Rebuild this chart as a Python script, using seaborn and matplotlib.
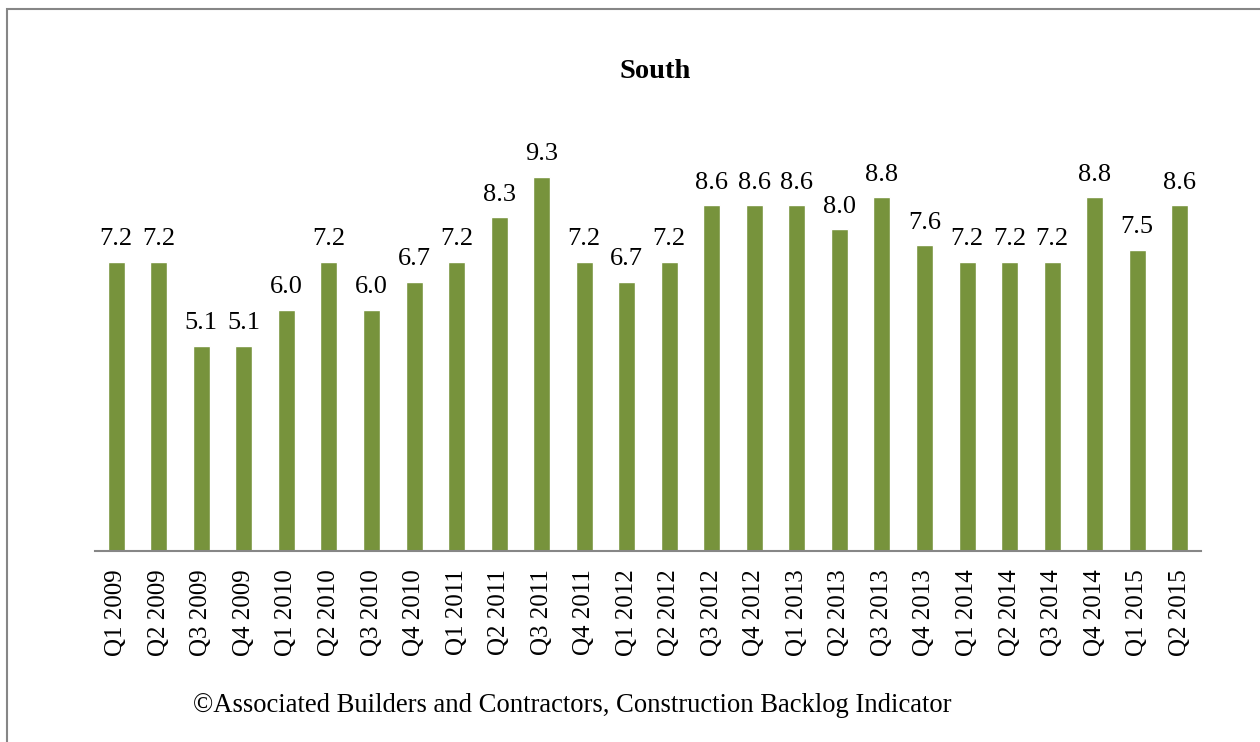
import pandas as pd
import numpy as np
import matplotlib
matplotlib.use('Agg')
import matplotlib.pyplot as plt
from matplotlib.patches import Rectangle
import seaborn as sns

# Data
quarters = ['Q1 2009', 'Q2 2009', 'Q3 2009', 'Q4 2009',
            'Q1 2010', 'Q2 2010', 'Q3 2010', 'Q4 2010',
            'Q1 2011', 'Q2 2011', 'Q3 2011', 'Q4 2011',
            'Q1 2012', 'Q2 2012', 'Q3 2012', 'Q4 2012',
            'Q1 2013', 'Q2 2013', 'Q3 2013', 'Q4 2013',
            'Q1 2014', 'Q2 2014', 'Q3 2014', 'Q4 2014',
            'Q1 2015', 'Q2 2015']
backlog = [7.2, 7.2, 5.1, 5.1,
           6.0, 7.2, 6.0, 6.7,
           7.2, 8.3, 9.3, 7.2,
           6.7, 7.2, 8.6, 8.6,
           8.6, 8.0, 8.8, 7.6,
           7.2, 7.2, 7.2, 8.8,
           7.5, 8.6]
title = 'South'
footnote = '\u00a9Associated Builders and Contractors, Construction Backlog Indicator'

df = pd.DataFrame({'Quarter': quarters, 'Backlog': backlog})

sns.set_style('white')
plt.rcParams['font.family'] = ['Liberation Serif', 'DejaVu Serif']
plt.rcParams['text.color'] = 'black'
plt.rcParams['xtick.color'] = 'black'

fig = plt.figure(figsize=(12.6, 7.42), dpi=100)
ax = fig.add_axes([95 / 1260, 1 - 551 / 742, 1106 / 1260, 402 / 742])

sns.barplot(data=df, x='Quarter', y='Backlog', color='#77933C',
            saturation=1, width=0.4, ax=ax)

# value labels above bars
for i, v in enumerate(backlog):
    ax.annotate(f'{v:.1f}', xy=(i, v), xytext=(0, 12), textcoords='offset points',
                ha='center', va='baseline', fontsize=19, color='black')

ax.set_xlim(-0.5, len(quarters) - 0.5)
ax.set_ylim(0, 10)
ax.set_xlabel('')
ax.set_ylabel('')
ax.set_yticks([])
ax.tick_params(axis='x', length=0, pad=13, labelsize=18, rotation=90,
               labelcolor='black')
for s in ['top', 'right', 'left']:
    ax.spines[s].set_visible(False)
ax.spines['bottom'].set_color('#868686')
ax.spines['bottom'].set_linewidth(1.5)

fig.text(655 / 1260, 1 - 78 / 742, title, ha='center', va='baseline',
         fontsize=20.5, fontweight='bold', color='black')
fig.text(193 / 1260, 1 - 712 / 742, footnote, ha='left', va='baseline',
         fontsize=19.2, color='black')

# frame of the chart area (cut off at right and bottom)
fig.patches.append(Rectangle((7 / 1260, -0.5), 2, 1 - 9 / 742 + 0.5,
                             transform=fig.transFigure, fill=False,
                             edgecolor='#868686', linewidth=1.5))

fig.savefig('out.png', dpi=100)
